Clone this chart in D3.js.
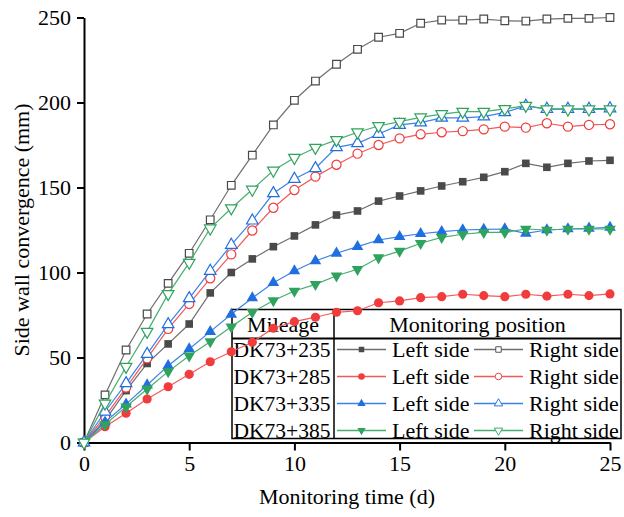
<!DOCTYPE html>
<html>
<head>
<meta charset="utf-8">
<script src="https://cdn.jsdelivr.net/npm/d3@7"></script>
<style>
  html, body { margin: 0; padding: 0; background: #fff; }
  svg { display: block; }
  text { font-family: "Liberation Serif", "Times New Roman", serif; fill: #000; }
</style>
</head>
<body>
<svg id="chart" width="624" height="517"></svg>
<script>
// Monitoring day index
const days = [0,1,2,3,4,5,6,7,8,9,10,11,12,13,14,15,16,17,18,19,20,21,22,23,24,25];

// Side wall convergence (mm) per section and side
const left235  = [0,13,30.5,46.5,58,69.7,88,100,108,115.2,121.5,128,133.8,136.2,142,145,148,150.9,153.4,156,159.3,164.2,161.9,164.2,165.6,166];
const right235 = [0,28,54.4,75.6,93.6,111.3,131,151.3,169,186.8,201.3,212.6,222.5,231.3,238.4,240.7,246.6,248.5,248.5,249.1,248.1,247.9,249.1,249.5,249.5,250];
const left285  = [0,9.3,17.2,25.6,32.8,40.1,47.5,53.4,59,67.2,71.1,73.7,76.6,77.5,82.2,83.3,85.2,85.8,87.2,86.4,85.8,87.2,86.1,87.2,86.4,87.4];
const right285 = [0,15.2,32.3,49.5,66.8,81.5,96.6,110.7,124.7,138.1,148.5,156.4,163.4,169.9,175,178.9,181.3,182.5,183.2,184.2,185.8,185.2,187.8,185.8,186.8,187.2];
const left335  = [0,12,22.6,33.8,45.2,55,65.2,75.4,85,94,100.9,106.8,111.3,115.2,119.1,121.1,122.8,124,125,125.4,125.6,123,125,125.6,126,126.5];
const right335 = [0,18.1,34.8,52,69.5,84.8,100.9,116.2,130.5,146.6,155,161.3,173.6,176,181.5,186.8,188.2,191,191,191.7,194.2,198,196.2,196.2,196.2,196.5];
const left385  = [0,10.5,21,31.5,41.7,51,59.3,68.1,76.6,83.5,89.1,93,98.1,101.9,108.7,112.6,117.2,120.7,122.5,123.6,123.6,125.6,125,125.6,125.6,125.6];
const right385 = [0,23,44.6,65.2,87.4,105.8,126,137.8,148.8,160,167.5,173.4,178,182.5,186.2,188.7,191.3,193.2,194.6,194.6,196.2,198.1,196,196,196,196];

const mileages = ["DK73+235", "DK73+285", "DK73+335", "DK73+385"];
const sideLabels = ["Left side", "Right side"];
const xTicks = [0, 5, 10, 15, 20, 25];
const yTicks = [0, 50, 100, 150, 200, 250];

// Per-section styling: marker shape and colours
const sections = [
  { name: mileages[0], left: left235, right: right235, color: "#4a4a4a", line: "#6e6e6e", shape: "square" },
  { name: mileages[1], left: left285, right: right285, color: "#f03c3c", line: "#f25a5a", shape: "circle" },
  { name: mileages[2], left: left335, right: right335, color: "#1f6fe0", line: "#3b82e6", shape: "triUp" },
  { name: mileages[3], left: left385, right: right385, color: "#2fa35e", line: "#47ad70", shape: "triDown" }
];

const svg = d3.select("#chart");

const x = d3.scaleLinear().domain([0, 25]).range([84, 610]);
const y = d3.scaleLinear().domain([0, 250]).range([442.5, 17.5]);

function symbolPath(shape) {
  if (shape === "square") return d3.symbol(d3.symbolSquare, 58)();
  if (shape === "circle") return d3.symbol(d3.symbolCircle, 66)();
  return d3.symbol(d3.symbolTriangle, 58)();
}
function symbolRotate(shape) { return shape === "triDown" ? " rotate(180)" : ""; }

// Legend table (drawn first so the data sits on top of it)
const lg = { x0: 232, x1: 621, y0: 309.5, y1: 438.5, xDiv: 334, yHead: 338.5, rowH: 27 };
const legend = svg.append("g");
legend.append("rect")
  .attr("x", lg.x0).attr("y", lg.y0)
  .attr("width", lg.x1 - lg.x0).attr("height", lg.y1 - lg.y0)
  .attr("fill", "none").attr("stroke", "#000").attr("stroke-width", 1.5);
legend.append("line")
  .attr("x1", lg.x0).attr("x2", lg.x1).attr("y1", lg.yHead).attr("y2", lg.yHead)
  .attr("stroke", "#000").attr("stroke-width", 1.8);
legend.append("line")
  .attr("x1", lg.xDiv).attr("x2", lg.xDiv).attr("y1", lg.y0).attr("y2", lg.y1)
  .attr("stroke", "#000").attr("stroke-width", 1.5);
legend.append("text")
  .attr("x", (lg.x0 + lg.xDiv) / 2).attr("y", lg.y0 + 22)
  .attr("text-anchor", "middle").attr("font-size", 22).text("Mileage");
legend.append("text")
  .attr("x", (lg.xDiv + lg.x1) / 2).attr("y", lg.y0 + 22)
  .attr("text-anchor", "middle").attr("font-size", 22).text("Monitoring position");

sections.forEach((s, i) => {
  const cy = lg.yHead + 11 + i * lg.rowH;
  const row = legend.append("g");
  row.append("text")
    .attr("x", (lg.x0 + lg.xDiv) / 2 - 1).attr("y", cy + 7.5)
    .attr("text-anchor", "middle").attr("font-size", 21.5).text(s.name);
  [[337, 386, 392, true, sideLabels[0]], [474, 523, 529, false, sideLabels[1]]].forEach(([a, b, tx, filled, lab]) => {
    row.append("line").attr("x1", a).attr("x2", b).attr("y1", cy).attr("y2", cy)
      .attr("stroke", s.line).attr("stroke-width", 1.3);
    row.append("path")
      .attr("d", symbolPath(s.shape))
      .attr("transform", `translate(${(a + b) / 2},${cy})${symbolRotate(s.shape)} scale(0.72)`)
      .attr("fill", filled ? s.color : "#fff")
      .attr("stroke", s.color).attr("stroke-width", filled ? 0 : 1.3);
    row.append("text").attr("x", tx).attr("y", cy + 7.5)
      .attr("font-size", 22).text(lab);
  });
});

// Axes
const xAxis = d3.axisBottom(x).tickValues(xTicks).tickSize(8).tickPadding(5).tickSizeOuter(0);
const yAxis = d3.axisLeft(y).tickValues(yTicks).tickSize(7).tickPadding(6).tickSizeOuter(0);

const gx = svg.append("g").attr("transform", `translate(0,${y(0)})`).call(xAxis);
const gy = svg.append("g").attr("transform", `translate(${x(0)},0)`).call(yAxis);
[gx, gy].forEach(g => {
  g.select(".domain").attr("stroke", "#000").attr("stroke-width", 2);
  g.selectAll(".tick line").attr("stroke", "#000").attr("stroke-width", 2);
  g.selectAll(".tick text")
    .attr("font-family", '"Liberation Serif", "Times New Roman", serif')
    .attr("font-size", 22).attr("fill", "#000");
});
gy.selectAll(".tick text").attr("dy", "0.34em");

// Axis titles
svg.append("text")
  .attr("x", 347).attr("y", 504)
  .attr("text-anchor", "middle").attr("font-size", 22)
  .text("Monitoring time (d)");
svg.append("text")
  .attr("transform", "translate(29,230) rotate(-90)")
  .attr("text-anchor", "middle").attr("font-size", 22)
  .text("Side wall convergence (mm)");

// Series lines and markers
const line = d3.line().x((d, i) => x(days[i])).y(d => y(d));
const plot = svg.append("g");
sections.forEach(s => {
  [[s.left, true], [s.right, false]].forEach(([vals, filled]) => {
    const g = plot.append("g");
    g.append("path").datum(vals)
      .attr("d", line).attr("fill", "none")
      .attr("stroke", s.line).attr("stroke-width", 1.2);
    g.selectAll("path.m").data(vals).join("path")
      .attr("class", "m")
      .attr("d", symbolPath(s.shape))
      .attr("transform", (d, i) => `translate(${x(days[i])},${y(d)})${symbolRotate(s.shape)}`)
      .attr("fill", filled ? s.color : "#fff")
      .attr("stroke", s.color)
      .attr("stroke-width", filled ? 0 : 1.2);
  });
});
</script>
</body>
</html>
